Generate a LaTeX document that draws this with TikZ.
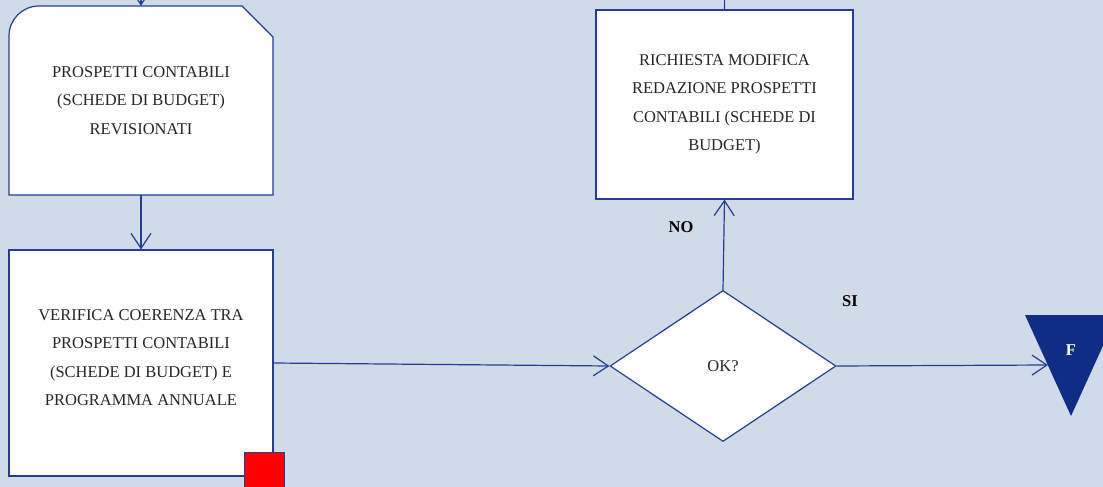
\documentclass[tikz,border=0pt]{standalone}
\usepackage{fontspec}
\setmainfont{Liberation Serif}
\usetikzlibrary{arrows.meta,shapes.geometric}
\definecolor{sfondo}{RGB}{207,219,233}
\definecolor{linea}{RGB}{36,62,146}
\definecolor{fine}{RGB}{16,45,133}
\begin{document}
\begin{tikzpicture}[x=1pt,y=-1pt,
        flusso/.style={-{Straight Barb[length=15pt,width=20pt]}, draw=linea, line width=1.2pt},
        testo/.style={align=center, text=black!85, font=\fontsize{16.5}{28.5}\selectfont},
        blocco/.style={draw=linea, line width=1.2pt, fill=white, testo},
        etichetta/.style={font=\fontsize{16.5}{20}\selectfont\bfseries}]
        \fill[sfondo] (0,0) rectangle (1103,487);
        \useasboundingbox (0,0) rectangle (1103,487);
        % documento revisionato
        \filldraw[draw=linea, line width=1.2pt, fill=white] (9,195) -- (9,36)
        .. controls (9,19.4) and (22.4,6) .. (39,6) -- (242,6) -- (273,37) -- (273,195) -- cycle;
        \node[testo, minimum width=264pt, minimum height=189pt] (prospetti) at (141,100.5)
        {PROSPETTI CONTABILI\\(SCHEDE DI BUDGET)\\REVISIONATI};
        \node[blocco, minimum width=264pt, minimum height=226pt, text depth=11pt] (verifica) at (141,363)
        {VERIFICA COERENZA TRA\\PROSPETTI CONTABILI\\(SCHEDE DI BUDGET) E\\PROGRAMMA ANNUALE};
        \node[draw=linea, fill=red, minimum size=40pt, inner sep=0pt] (rischio) at (264,472) {};
        \node[blocco, diamond, inner sep=0pt, minimum width=226pt, minimum height=151pt] (ok) at (723,366) {OK?};
        \node[blocco, minimum width=257pt, minimum height=189pt] (richiesta) at (724.5,104.5)
        {RICHIESTA MODIFICA\\REDAZIONE PROSPETTI\\CONTABILI (SCHEDE DI\\BUDGET)};
        % fine
        \fill[fine] (1025,315) -- (1117,315) -- (1071,416) -- cycle;
        \node[etichetta, text=white] (F) at (1071,350) {F};
        \coordinate (ingressoF) at (1048,365);
        \coordinate (sopra1) at (141,-25);
        \coordinate (sopra2) at (725,-25);
        \draw[flusso] (sopra1) -- (prospetti.north);
        \draw[flusso] (prospetti.south) -- (verifica.north);
        \draw[flusso] (verifica.east) -- (ok.west);
        \draw[flusso] (ok.north) -- (richiesta.south);
        \draw[draw=linea, line width=1.2pt] (richiesta.north) -- (sopra2);
        \draw[flusso] (ok.east) -- (ingressoF);
        \node[etichetta] (no) at (681,227) {NO};
        \node[etichetta] (si) at (850,301) {SI};
\end{tikzpicture}
\end{document}
